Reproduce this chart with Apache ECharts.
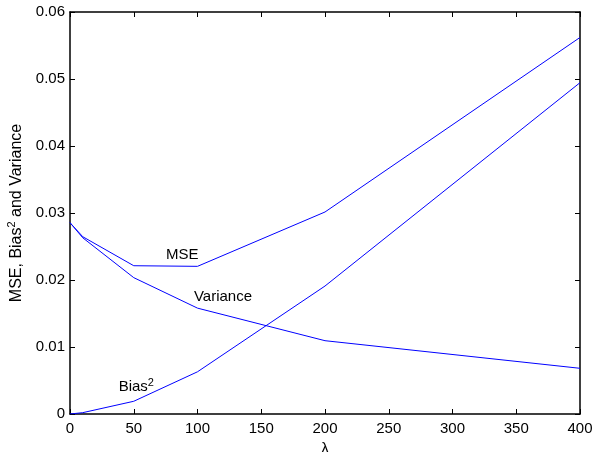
<!DOCTYPE html>
<html>
<head>
<meta charset="utf-8">
<script src="https://cdn.jsdelivr.net/npm/echarts@6/dist/echarts.min.js"></script>
<style>
  html, body { margin: 0; padding: 0; background: #fff; }
  #chart { width: 592px; height: 452px; }
</style>
</head>
<body>
<div id="chart"></div>
<script>
// lambda values and the three curves
var lambdas = [0, 10, 50, 100, 200, 400];
var mse = [0.02855, 0.02646, 0.02213, 0.02204, 0.03015, 0.0562];
var variance = [0.02855, 0.0263, 0.02035, 0.0158, 0.01094, 0.00682];
var bias2 = [0, 0.0002, 0.0019, 0.0063, 0.0191, 0.04945];
var xTicks = [0, 50, 100, 150, 200, 250, 300, 350, 400];
var yTicks = [0, 0.01, 0.02, 0.03, 0.04, 0.05, 0.06];

function pairs(ys) {
  return lambdas.map(function (x, i) { return [x, ys[i]] })
}

var font = 'Liberation Sans, Arial, sans-serif';
var txt = { fontFamily: font, fontSize: 15, color: '#000' };

// text label placed in data space, no symbol
function note(coord, text) {
  return {
    symbolSize: 0,
    data: [{ coord: coord }],
    label: {
      show: true, position: 'inside', formatter: text,
      fontFamily: font, fontSize: 15, color: '#000',
      rich: {
        a: { fontFamily: font, fontSize: 15, color: '#000' },
        s: { fontFamily: font, fontSize: 11, color: '#000', verticalAlign: 'top', padding: [0, 0, 8, 0] }
      }
    }
  }
}

var chart = echarts.init(document.getElementById('chart'));
var lineStyle = { color: '#0000ff', width: 1 };
var boxLine = { onZero: false, lineStyle: { color: '#000', width: 1.5 } };
var tick = { inside: true, length: 5, lineStyle: { color: '#000' } };

chart.setOption({
  animation: false,
  grid: { left: 70, right: 12, top: 12, bottom: 38, outerBoundsMode: 'none', containLabel: false },
  xAxis: [{
    type: 'value', min: 0, max: 400, interval: 50,
    name: 'λ', nameLocation: 'middle', nameGap: 27,
    nameTextStyle: txt,
    axisLine: boxLine, axisTick: tick,
    axisLabel: Object.assign({ margin: 7, formatter: function (v) { return xTicks.indexOf(v) >= 0 ? String(v) : '' } }, txt),
    splitLine: { show: false }
  }, {
    type: 'value', min: 0, max: 400, interval: 50, position: 'top',
    axisLine: boxLine, axisTick: tick,
    axisLabel: { show: false }, splitLine: { show: false }
  }],
  yAxis: [{
    type: 'value', min: 0, max: 0.06, interval: 0.01,
    name: '{a|MSE, Bias}{s|2}{a| and Variance}',
    nameLocation: 'middle', nameGap: 42,
    nameTextStyle: {
      rich: {
        a: { fontFamily: font, fontSize: 16, color: '#000' },
        s: { fontFamily: font, fontSize: 11, color: '#000', verticalAlign: 'top', padding: [0, 0, 9, 0] }
      }
    },
    axisLine: boxLine, axisTick: tick,
    axisLabel: Object.assign({ margin: 5, formatter: function (v) {
      return yTicks.indexOf(+v.toFixed(2)) >= 0 ? (v === 0 ? '0' : v.toFixed(2)) : ''
    } }, txt),
    splitLine: { show: false }
  }, {
    type: 'value', min: 0, max: 0.06, interval: 0.01, position: 'right',
    axisLine: boxLine, axisTick: tick,
    axisLabel: { show: false }, splitLine: { show: false }
  }],
  series: [{
    name: 'MSE', type: 'line', data: pairs(mse), symbol: 'none', lineStyle: lineStyle,
    markPoint: note([88, 0.0238], 'MSE')
  }, {
    name: 'Variance', type: 'line', data: pairs(variance), symbol: 'none', lineStyle: lineStyle,
    markPoint: note([120, 0.0175], 'Variance')
  }, {
    name: 'Bias2', type: 'line', data: pairs(bias2), symbol: 'none', lineStyle: lineStyle,
    markPoint: note([52, 0.0040], '{a|Bias}{s|2}')
  }]
});
</script>
</body>
</html>
